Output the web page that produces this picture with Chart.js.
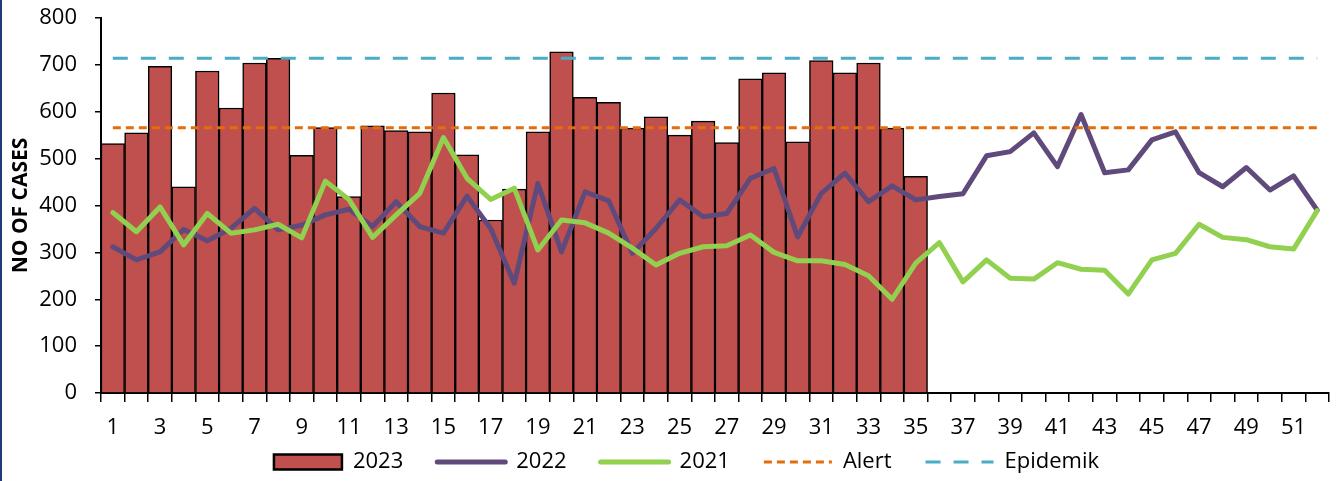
<!DOCTYPE html>
<html>
<head>
<meta charset="utf-8">
<script src="https://cdn.jsdelivr.net/npm/chart.js@4.4.1/dist/chart.umd.min.js"></script>
<style>
html,body{margin:0;padding:0;background:#fff;}
#wrap{position:relative;width:1343px;height:481px;overflow:hidden;}
#edge{position:absolute;left:0;top:0;width:2px;height:481px;background:#203A78;}
</style>
</head>
<body>
<div id="wrap"><canvas id="c" width="1343" height="481"></canvas><div id="edge"></div></div>
<script>
const weeks = ['1','2','3','4','5','6','7','8','9','10','11','12','13','14','15','16','17','18','19','20',
  '21','22','23','24','25','26','27','28','29','30','31','32','33','34','35','36','37','38','39','40',
  '41','42','43','44','45','46','47','48','49','50','51','52'];

const cases2023 = [532,555,697,440,687,608,704,714,507,566,
  419,570,560,557,640,508,369,435,557,728,
  631,620,565,589,550,580,534,670,683,536,
  709,683,704,565,462];

const cases2022 = [312,284,301,349,325,351,394,348,358,380,
  392,355,408,355,341,420,351,234,447,301,
  429,410,298,351,412,376,383,458,479,333,
  426,469,408,442,412,419,425,506,515,555,
  483,594,470,476,540,557,470,440,481,433,
  463,390];

const cases2021 = [385,344,397,316,383,341,348,360,331,452,
  413,332,380,426,545,458,413,437,305,369,
  363,341,309,273,298,312,314,337,300,282,
  282,274,250,200,277,321,237,284,245,243,
  278,264,262,211,284,298,360,332,327,312,
  307,389];

const alertLevel = 566;
const epidemicLevel = 714;

const yTicks = {min: 0, max: 800, step: 100};

const FONT = '"Open Sans", "Noto Sans", sans-serif';

const firstWeek = weeks[0];
const lastWeek = weeks[weeks.length - 1];

const LEGEND_PAD = 34;

const legendPlace = {
  id: 'legendPlace',
  afterLayout(chart) {
    const lg = chart.legend;
    if (!lg) return;
    const dx = 22;
    lg.left += dx; lg.right += dx;
    lg.top = 462 - LEGEND_PAD - 11; lg.bottom = 481; lg.height = lg.bottom - lg.top;
  }
};

new Chart(document.getElementById('c'), {
  type: 'bar',
  data: {
    labels: weeks,
    datasets: [
      {type: 'bar', label: '2023', data: cases2023, backgroundColor: '#C0504D', borderColor: '#000000',
       borderWidth: 1.5, barPercentage: 1, categoryPercentage: 1, order: 5},
      {type: 'line', label: '2022', data: cases2022, borderColor: '#604A7B', backgroundColor: '#604A7B',
       borderWidth: 5, pointRadius: 0, tension: 0, borderCapStyle: 'round', borderJoinStyle: 'round', order: 4},
      {type: 'line', label: '2021', data: cases2021, borderColor: '#92D050', backgroundColor: '#92D050',
       borderWidth: 5, pointRadius: 0, tension: 0, borderCapStyle: 'round', borderJoinStyle: 'round', order: 3},
      {type: 'line', label: 'Alert', data: [{x: firstWeek, y: alertLevel}, {x: lastWeek, y: alertLevel}],
       borderColor: '#E46C0A', backgroundColor: '#E46C0A', borderWidth: 3, borderDash: [8, 5],
       pointRadius: 0, order: 2},
      {type: 'line', label: 'Epidemik', data: [{x: firstWeek, y: epidemicLevel}, {x: lastWeek, y: epidemicLevel}],
       borderColor: '#4BACC6', backgroundColor: '#4BACC6', borderWidth: 3, borderDash: [15, 13],
       pointRadius: 0, order: 1}
    ]
  },
  options: {
    responsive: false,
    animation: false,
    events: [],
    layout: {padding: {top: 18, right: 14, left: 0, bottom: 0}},
    scales: {
      x: {
        offset: true,
        grid: {offset: true, drawOnChartArea: false, tickLength: 9, color: '#000', lineWidth: 1.5},
        border: {color: '#000', width: 2},
        ticks: {
          autoSkip: false, maxRotation: 0, minRotation: 0, color: '#000',
          font: {family: FONT, size: 22}, padding: 13,
          callback: function (v, i) { return i % 2 === 0 ? this.getLabelForValue(v) : ''; }
        },
        afterFit(s) { s.height = 50; s.paddingLeft = 0; s.paddingRight = 0; }
      },
      y: {
        min: yTicks.min, max: yTicks.max,
        ticks: {stepSize: yTicks.step, color: '#000', font: {family: FONT, size: 22}, padding: 18},
        grid: {drawOnChartArea: false, tickLength: 6, color: '#000', lineWidth: 1.5},
        border: {color: '#000', width: 2},
        title: {display: true, text: 'NO OF CASES', color: '#000',
                font: {family: FONT, size: 21, weight: 'bold'}, padding: {top: 8, bottom: 0}},
        afterFit(s) { s.width = 101; s.paddingTop = 0; s.paddingBottom = 0; }
      }
    },
    plugins: {
      tooltip: {enabled: false},
      legend: {
        position: 'bottom',
        maxHeight: 38,
        labels: {
          usePointStyle: true, pointStyleWidth: 68, boxHeight: 15, padding: LEGEND_PAD,
          color: '#000', font: {family: FONT, size: 22},
          generateLabels(chart) {
            const items = Chart.defaults.plugins.legend.labels.generateLabels(chart);
            items.forEach(it => {
              const ds = chart.data.datasets[it.datasetIndex];
              if (it.datasetIndex === 0) {
                it.pointStyle = 'rect'; it.lineWidth = 2.5; it.strokeStyle = '#000';
              } else {
                it.pointStyle = 'line';
                it.lineWidth = ds.borderWidth;
                it.strokeStyle = ds.borderColor;
                it.lineDash = ds.borderDash || [];
                it.lineCap = ds.borderDash ? 'butt' : 'round';
              }
            });
            return items.sort((a, b) => a.datasetIndex - b.datasetIndex);
          }
        }
      }
    }
  },
  plugins: [legendPlace]
});
</script>
</body>
</html>
